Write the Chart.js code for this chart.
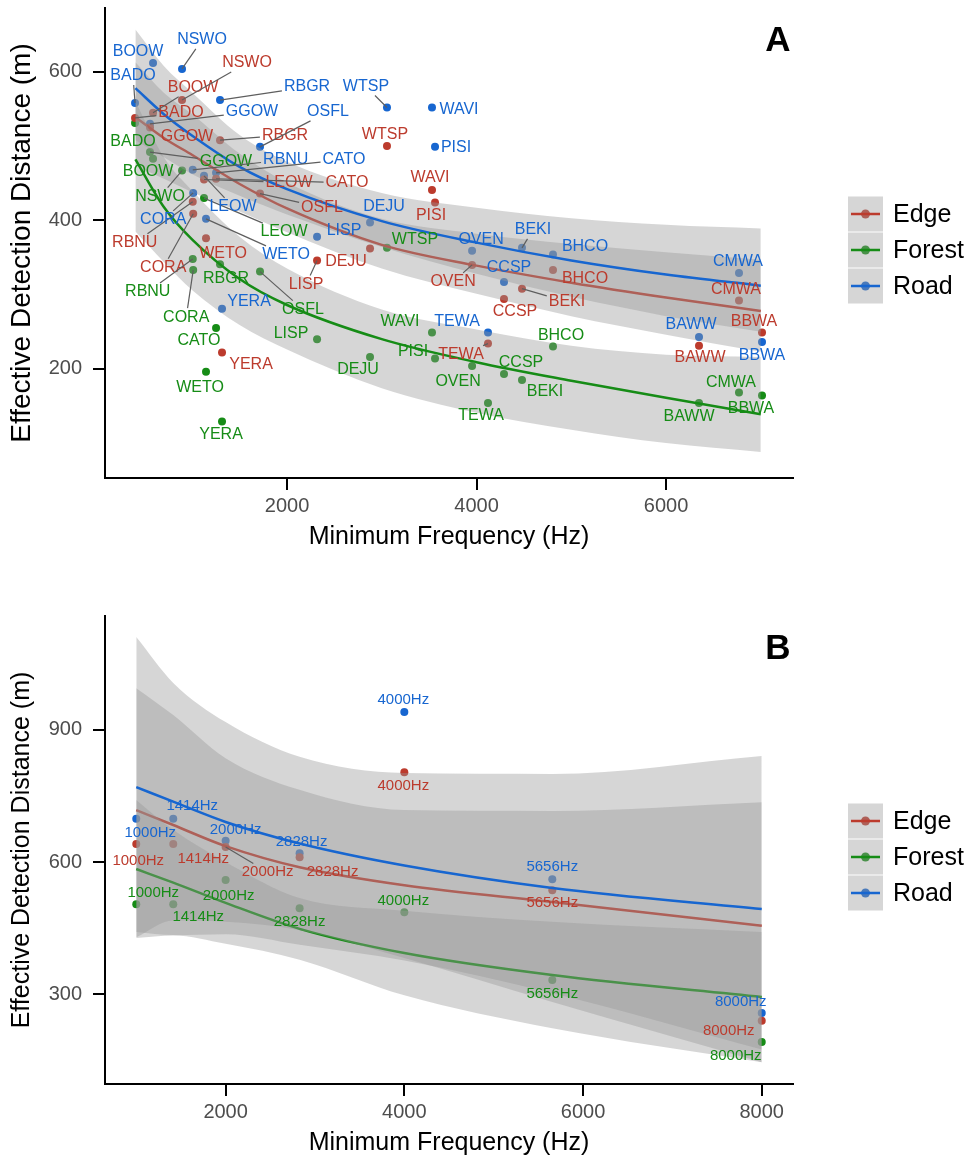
<!DOCTYPE html>
<html>
<head>
<meta charset="utf-8">
<script src="https://cdn.jsdelivr.net/npm/chart.js@4.4.1/dist/chart.umd.min.js"></script>
<style>
  html, body { margin: 0; padding: 0; background: #fff; }
  canvas { display: block; }
</style>
</head>
<body>
<canvas id="chartA" width="970" height="580"></canvas>
<canvas id="chartB" width="970" height="585"></canvas>
<script>
// ---- panel A: species, minimum song frequency (Hz) and detection distance (m) ----
const species = ["BADO", "GGOW", "BOOW", "NSWO", "RBNU", "CORA", "LEOW", "WETO", "CATO", "RBGR", "YERA", "OSFL", "LISP",
  "DEJU", "WTSP", "WAVI", "PISI", "OVEN", "TEWA", "CCSP", "BEKI", "BHCO", "BAWW", "CMWA", "BBWA"];
const speciesFreq = [396, 554, 586, 892, 1005, 1010, 1124, 1145, 1251, 1293, 1314, 1715, 2317,
  2876, 3055, 3530, 3562, 3953, 4121, 4290, 4480, 4807, 6348, 6770, 7013];
const edgeDist = [538, 525, 545, 562, 425, 409, 455, 376, 456, 508, 222, 436, 346,
  362, 500, 441, 424, 340, 234, 294, 308, 333, 231, 292, 249];
const forestDist = [531, 492, 483, 467, 348, 333, 430, 196, 255, 341, 129, 331, 240,
  216, 363, 249, 214, 204, 154, 193, 185, 230, 154, 168, 164];
const roadDist = [558, 530, 612, 604, 468, 437, 460, 402, 464, 562, 281, 499, 378,
  397, 552, 552, 499, 359, 249, 317, 363, 354, 243, 329, 236];

// fitted curves with their confidence bands
const fitFreqA = [400, 700, 1000, 1500, 2000, 3000, 4000, 5000, 6000, 7000];
const edgeFitA = [539, 511, 488, 449, 416, 367, 339, 316, 296, 278];
const edgeLowA = [474, 456, 438, 412, 384, 335, 301, 271, 246, 223];
const edgeHighA = [613, 572, 543, 490, 451, 402, 382, 368, 357, 347];
const forestFitA = [482, 418, 374, 321, 286, 240, 209, 184, 161, 139];
const forestLowA = [385, 344, 306, 259, 226, 174, 141, 118, 100, 88];
const forestHighA = [560, 485, 440, 378, 335, 280, 253, 231, 219, 216];
const roadFitA = [578, 543, 514, 472, 442, 399, 370, 346, 327, 312];
const roadLowA = [508, 485, 462, 433, 408, 364, 328, 297, 271, 250];
const roadHighA = [657, 608, 572, 515, 479, 437, 417, 403, 394, 389];

// ---- panel B: test tones ----
const toneFreq = [1000, 1414, 2000, 2828, 4000, 5656, 8000];
const toneNames = toneFreq.map(f => f + "Hz");
const edgeTone = [641, 641, 634, 611, 804, 536, 239];
const forestTone = [504, 504, 559, 495, 486, 332, 191];
const roadTone = [698, 698, 648, 620, 941, 561, 257];

const edgeFitB = [718, 684, 636, 588, 547, 509, 455];
const edgeLowB = [441, 434, 436, 412, 376, 302, 174];
const edgeHighB = [995, 934, 836, 764, 718, 716, 736];
const forestFitB = [584, 553, 507, 448, 393, 343, 293];
const forestLowB = [427, 433, 414, 378, 297, 222, 145];
const forestHighB = [741, 673, 600, 518, 489, 464, 441];
const roadFitB = [770, 737, 691, 642, 592, 541, 493];
const roadLowB = [429, 467, 464, 445, 382, 282, 145];
const roadHighB = [1111, 1007, 918, 839, 802, 800, 841];

const habitats = ["Edge", "Forest", "Road"];

// label placement (pixel offset from the point, 1 = draw a leader line)
const edgeLabelPosA = [[46, -5, 1], [37, 9, 0], [40, -25, 1], [65, -37, 1], [-58, 41, 1], [-30, 54, 1], [85, 3, 1],
  [17, 15, 0], [131, 4, 1], [65, -5, 1], [29, 12, 0], [62, 14, 1], [-11, 24, 1], [-24, 13, 0], [-2, -12, 0],
  [-2, -12, 0], [-4, 13, 0], [-19, 17, 1], [-27, 11, 1], [11, 13, 0], [45, 13, 1], [32, 8, 0], [1, 12, 0],
  [-3, -11, 0], [-8, -11, 0]];
const forestLabelPosA = [[-2, 19, 0], [76, 10, 1], [-5, 13, 0], [-22, 26, 1], [-45, 33, 1], [-7, 47, 1], [80, 34, 1],
  [-6, 16, 0], [-17, 13, 0], [6, 14, 0], [-1, 13, 0], [43, 38, 1], [-26, -6, 0], [-12, 13, 0], [28, -8, 0],
  [-32, -11, 0], [-22, -7, 0], [-14, 16, 0], [-7, 13, 0], [17, -11, 0], [23, 12, 0], [8, -11, 0], [-10, 14, 0],
  [-8, -10, 0], [-11, 13, 0]];
const roadLabelPosA = [[-2, -27, 1], [102, -12, 1], [-15, -11, 0], [20, -29, 1], [93, -10, 1], [-30, 27, 1], [29, 31, 1],
  [80, 36, 1], [128, -13, 1], [87, -13, 1], [27, -7, 0], [68, -35, 1], [27, -6, 0], [14, -16, 0], [-21, -21, 1],
  [27, 2, 0], [21, 1, 0], [9, -11, 0], [-31, -11, 0], [5, -14, 0], [11, -18, 1], [32, -8, 0], [-8, -12, 0],
  [-1, -11, 0], [0, 13, 0]];
const edgeLabelPosB = [[2, 17, 0], [30, 15, 0], [42, 25, 1], [33, 15, 0], [-1, 14, 0], [0, 13, 0], [-33, 10, 0]];
const forestLabelPosB = [[17, -11, 0], [25, 13, 0], [3, 16, 0], [0, 14, 0], [-1, -11, 0], [0, 14, 0], [-26, 14, 0]];
const roadLabelPosB = [[14, 14, 0], [19, -13, 0], [10, -11, 0], [2, -11, 0], [-1, -12, 0], [0, -12, 0], [-21, -11, 0]];

const colors = { Edge: "#BC3B2D", Forest: "#168C16", Road: "#1766D0" };
const bandFill = "rgba(153,153,153,0.4)";
const FONT = "'Liberation Sans', Arial, sans-serif";

function xy(xs, ys) {
  return xs.map((x, i) => ({ x: x, y: ys[i] }));
}

function pointSet(name, xs, ys) {
  return {
    label: name, data: xy(xs, ys), showLine: false, pointRadius: 4, pointHoverRadius: 4,
    pointBackgroundColor: colors[name], pointBorderWidth: 0, order: 20
  };
}

// lower bound, upper bound (filled down to the lower one) and the fitted line
function smoothSets(name, xs, fit, lo, hi, order) {
  const common = { showLine: true, pointRadius: 0, cubicInterpolationMode: "monotone" };
  return [
    Object.assign({ label: name + " lower", data: xy(xs, lo), borderWidth: 0, fill: false, order: order + 2 }, common),
    Object.assign({ label: name + " upper", data: xy(xs, hi), borderWidth: 0, fill: "-1", backgroundColor: bandFill, order: order + 1 }, common),
    Object.assign({ label: name, data: xy(xs, fit), borderWidth: 2.5, borderColor: colors[name], fill: false, order: order }, common)
  ];
}

const labelPlugin = {
  id: "pointLabels",
  afterDatasetsDraw(chart, args, opts) {
    const { ctx, scales: { x, y } } = chart;
    ctx.save();
    ctx.font = opts.size + "px " + FONT;
    ctx.textAlign = "center";
    ctx.textBaseline = "middle";
    opts.sets.forEach(set => {
      set.names.forEach((name, i) => {
        const px = x.getPixelForValue(set.xs[i]);
        const py = y.getPixelForValue(set.ys[i]);
        const [dx, dy, lead] = set.pos[i];
        const lx = px + dx, ly = py + dy;
        if (lead) {
          const hw = ctx.measureText(name).width / 2 + 2;
          const hh = opts.size / 2 + 1;
          const ddx = px - lx, ddy = py - ly;
          const t = Math.min(ddx ? hw / Math.abs(ddx) : Infinity, ddy ? hh / Math.abs(ddy) : Infinity);
          if (t < 1) {
            ctx.strokeStyle = "#5e5e5e";
            ctx.lineWidth = 1.2;
            ctx.beginPath();
            ctx.moveTo(px, py);
            ctx.lineTo(lx + ddx * t, ly + ddy * t);
            ctx.stroke();
          }
        }
        ctx.fillStyle = colors[set.habitat];
        ctx.fillText(name, lx, ly);
      });
    });
    ctx.restore();
  }
};

// legend keys (point under the band fill, line on top) and the panel letter
const keyPlugin = {
  id: "habitatKeys",
  afterDraw(chart, args, opts) {
    const { ctx, chartArea } = chart;
    const size = 35, gap = 1;
    const left = chartArea.right + 55;
    let top = (chartArea.top + chartArea.bottom) / 2 + 7 - (3 * size + 2 * gap) / 2;
    ctx.save();
    habitats.forEach(h => {
      const cy = top + size / 2;
      ctx.fillStyle = colors[h];
      ctx.beginPath();
      ctx.arc(left + size / 2, cy, 4.5, 0, Math.PI * 2);
      ctx.fill();
      ctx.fillStyle = bandFill;
      ctx.fillRect(left, top, size, size);
      ctx.strokeStyle = colors[h];
      ctx.lineWidth = 2.5;
      ctx.beginPath();
      ctx.moveTo(left + 3, cy);
      ctx.lineTo(left + size - 3, cy);
      ctx.stroke();
      ctx.fillStyle = "#000";
      ctx.font = "25px " + FONT;
      ctx.textAlign = "left";
      ctx.textBaseline = "middle";
      ctx.fillText(h, left + size + 10, cy + 1);
      top += size + gap;
    });
    ctx.font = "bold 35px " + FONT;
    ctx.textAlign = "center";
    ctx.fillText(opts.letter, chartArea.right - 15, chartArea.top + 33);
    ctx.restore();
  }
};

function makeChart(id, cfg) {
  const datasets = [
    pointSet("Edge", cfg.xs, cfg.edge),
    pointSet("Forest", cfg.xs, cfg.forest),
    pointSet("Road", cfg.xs, cfg.road)
  ].concat(
    smoothSets("Edge", cfg.fitX, cfg.edgeFit[0], cfg.edgeFit[1], cfg.edgeFit[2], 16),
    smoothSets("Forest", cfg.fitX, cfg.forestFit[0], cfg.forestFit[1], cfg.forestFit[2], 12),
    smoothSets("Road", cfg.fitX, cfg.roadFit[0], cfg.roadFit[1], cfg.roadFit[2], 8)
  );

  const axisGrid = { drawOnChartArea: false, drawTicks: true, tickLength: 12, color: "#000", lineWidth: 2 };
  const axisBorder = { display: true, color: "#000", width: 2 };
  const tickFont = { family: FONT, size: 20 };

  return new Chart(document.getElementById(id), {
    type: "line",
    data: { datasets },
    plugins: [labelPlugin, keyPlugin],
    options: {
      responsive: false,
      animation: false,
      layout: { padding: { left: 0, right: 177, top: cfg.padTop, bottom: cfg.padBottom } },
      scales: {
        x: {
          type: "linear", min: cfg.xMin, max: cfg.xMax,
          afterBuildTicks: s => { s.ticks = cfg.xTicks.map(v => ({ value: v })); },
          afterFit: s => { s.height = 80; s.paddingLeft = 0; s.paddingRight = 0; },
          ticks: { color: "#4d4d4d", font: tickFont, padding: 4, maxRotation: 0, callback: v => String(v) },
          grid: axisGrid, border: axisBorder,
          title: { display: true, text: "Minimum Frequency (Hz)", color: "#000", font: { family: FONT, size: 25 }, padding: { top: 0, bottom: 6 } }
        },
        y: {
          type: "linear", min: cfg.yMin, max: cfg.yMax,
          afterBuildTicks: s => { s.ticks = cfg.yTicks.map(v => ({ value: v })); },
          afterFit: s => { s.width = 105; s.paddingTop = 0; s.paddingBottom = 0; },
          ticks: { color: "#4d4d4d", font: tickFont, padding: 11, callback: v => String(v) },
          grid: axisGrid, border: axisBorder,
          title: {
            display: true, text: "Effective Detection Distance (m)", color: "#000",
            font: { family: FONT, size: cfg.yTitleSize }, padding: { top: 22 - cfg.yTitleSize * 0.6, bottom: 0 }
          }
        }
      },
      plugins: {
        legend: { display: false },
        tooltip: { enabled: false },
        pointLabels: {
          size: cfg.labelSize,
          sets: [
            { habitat: "Edge", names: cfg.names, xs: cfg.xs, ys: cfg.edge, pos: cfg.edgePos },
            { habitat: "Forest", names: cfg.names, xs: cfg.xs, ys: cfg.forest, pos: cfg.forestPos },
            { habitat: "Road", names: cfg.names, xs: cfg.xs, ys: cfg.road, pos: cfg.roadPos }
          ]
        },
        habitatKeys: { letter: cfg.letter }
      }
    }
  });
}

makeChart("chartA", {
  letter: "A", names: species, xs: speciesFreq,
  edge: edgeDist, forest: forestDist, road: roadDist,
  edgePos: edgeLabelPosA, forestPos: forestLabelPosA, roadPos: roadLabelPosA,
  fitX: fitFreqA,
  edgeFit: [edgeFitA, edgeLowA, edgeHighA],
  forestFit: [forestFitA, forestLowA, forestHighA],
  roadFit: [roadFitA, roadLowA, roadHighA],
  xMin: 79, xMax: 7340, xTicks: [2000, 4000, 6000],
  yMin: 53, yMax: 686, yTicks: [200, 400, 600],
  padTop: 8, padBottom: 22, labelSize: 16, yTitleSize: 28
});

makeChart("chartB", {
  letter: "B", names: toneNames, xs: toneFreq,
  edge: edgeTone, forest: forestTone, road: roadTone,
  edgePos: edgeLabelPosB, forestPos: forestLabelPosB, roadPos: roadLabelPosB,
  fitX: toneFreq,
  edgeFit: [edgeFitB, edgeLowB, edgeHighB],
  forestFit: [forestFitB, forestLowB, forestHighB],
  roadFit: [roadFitB, roadLowB, roadHighB],
  xMin: 650, xMax: 8350, xTicks: [2000, 4000, 6000, 8000],
  yMin: 95.5, yMax: 1159, yTicks: [300, 600, 900],
  padTop: 36, padBottom: 1, labelSize: 15, yTitleSize: 25
});
</script>
</body>
</html>
